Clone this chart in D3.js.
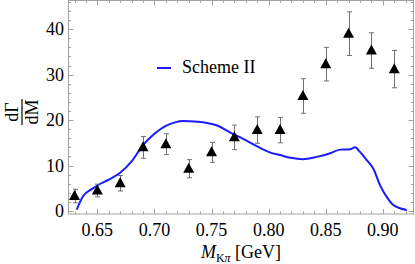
<!DOCTYPE html>
<html>
<head>
<meta charset="utf-8">
<script src="https://cdnjs.cloudflare.com/ajax/libs/d3/7.8.5/d3.min.js"></script>
<style>
  body { margin: 0; background: #fff; }
  svg { display: block; font-family: "Liberation Serif", "Times New Roman", serif; }
</style>
</head>
<body>
<div id="chart"></div>
<script>
// measured points (triangles) with symmetric errors
var mass_pts = [0.63, 0.65, 0.67, 0.69, 0.71, 0.73, 0.75, 0.77, 0.79, 0.81, 0.83, 0.85, 0.87, 0.89, 0.91];
var rate_pts = [3.3, 4.5, 6.1, 14.0, 14.7, 9.3, 12.9, 16.2, 17.8, 17.8, 25.3, 32.3, 39.0, 35.3, 31.2];
var rate_err = [1.5, 1.4, 1.7, 2.4, 2.3, 2.0, 2.2, 2.7, 2.9, 2.8, 3.8, 3.7, 4.8, 3.9, 4.1];

// Scheme II curve
var curve_m = [0.6319, 0.6376, 0.645, 0.65, 0.66, 0.67, 0.68, 0.69, 0.70, 0.71, 0.718, 0.7253, 0.735, 0.745, 0.755,
               0.766, 0.778, 0.79, 0.801, 0.81, 0.8193, 0.83, 0.842, 0.854, 0.8626, 0.8713, 0.8757, 0.88,
               0.8859, 0.8917, 0.8975, 0.9034, 0.9092, 0.915, 0.921];
var curve_v = [0.3, 3.3, 4.8, 5.6, 6.9, 8.4, 10.9, 14.5, 17.0, 18.7, 19.5, 19.8, 19.7, 19.4, 18.8,
               17.3, 15.8, 14.2, 12.9, 12.3, 11.7, 11.4, 11.9, 12.7, 13.5, 13.6, 14.0, 13.0,
               11.2, 9.3, 5.7, 3.1, 1.3, 0.6, 0.2];

var x_ticks = [0.65, 0.70, 0.75, 0.80, 0.85, 0.90];
var y_ticks = [0, 10, 20, 30, 40];

var width = 415, height = 264;
var frame_col = '#a0a0a0';

var svg = d3.select('#chart').append('svg')
    .attr('width', width)
    .attr('height', height);

var x = d3.scaleLinear().domain([0.6243, 0.9273]).range([68, 414]);
var y = d3.scaleLinear().domain([-0.66, 46.3]).range([214, 0.5]);

var x_minor = d3.range(0.63, 0.925, 0.01).map(function(d){ return +d.toFixed(2); });
var y_minor = d3.range(0, 47, 2);

// frame
svg.append('rect')
    .attr('x', 68.5).attr('y', 0.5)
    .attr('width', 345).attr('height', 213.5)
    .attr('fill', 'none')
    .attr('stroke', frame_col)
    .attr('stroke-width', 1);

// ticks on all four sides
function tickLen(v, majors) {
  return majors.some(function(m){ return Math.abs(m - v) < 1e-6; }) ? 5 : 2.5;
}
x_minor.forEach(function(v){
  var xx = Math.round(x(v)) + 0.5, L = tickLen(v, x_ticks);
  svg.append('line').attr('x1', xx).attr('x2', xx).attr('y1', 214).attr('y2', 214 - L)
     .attr('stroke', frame_col);
  svg.append('line').attr('x1', xx).attr('x2', xx).attr('y1', 0.5).attr('y2', 0.5 + L)
     .attr('stroke', frame_col);
});
y_minor.forEach(function(v){
  var yy = Math.round(y(v)) + 0.5, L = tickLen(v, y_ticks);
  svg.append('line').attr('x1', 68.5).attr('x2', 68.5 + L).attr('y1', yy).attr('y2', yy)
     .attr('stroke', frame_col);
  svg.append('line').attr('x1', 413.5).attr('x2', 413.5 - L).attr('y1', yy).attr('y2', yy)
     .attr('stroke', frame_col);
});

// tick labels
svg.selectAll('.xl').data(x_ticks).enter().append('text')
    .attr('x', function(d){ return x(d); })
    .attr('y', 236)
    .attr('text-anchor', 'middle')
    .style('font-size', '18px')
    .text(function(d){ return d.toFixed(2); });
svg.selectAll('.yl').data(y_ticks).enter().append('text')
    .attr('x', 64)
    .attr('y', function(d){ return y(d); })
    .attr('dy', '0.34em')
    .attr('text-anchor', 'end')
    .style('font-size', '18px')
    .text(function(d){ return d; });

// x title
var xt = svg.append('text')
    .attr('x', 241).attr('y', 258)
    .attr('text-anchor', 'middle')
    .style('font-size', '18px');
xt.append('tspan').style('font-style', 'italic').text('M');
xt.append('tspan').attr('dy', 4).style('font-size', '12px').text('K');
xt.append('tspan').style('font-size', '12px').style('font-style', 'italic').text('π');
xt.append('tspan').attr('dy', -4).text(' [GeV]');

// y title: rotated fraction dΓ/dM
var yt = svg.append('g').attr('transform', 'translate(22,112) rotate(-90)');
yt.append('text').attr('x', 0).attr('y', -4).attr('text-anchor', 'middle')
    .style('font-size', '18px').text('dΓ');
yt.append('line').attr('x1', -13).attr('x2', 13).attr('y1', 0).attr('y2', 0)
    .attr('stroke', '#000').attr('stroke-width', 1.2);
yt.append('text').attr('x', 0).attr('y', 16).attr('text-anchor', 'middle')
    .style('font-size', '18px').text('dM');

// curve
var curve_data = curve_m.map(function(m, i){ return [m, curve_v[i]]; });
svg.append('path')
    .datum(curve_data)
    .attr('fill', 'none')
    .attr('stroke', '#1a1aff')
    .attr('stroke-width', 2)
    .attr('stroke-linejoin', 'round')
    .attr('d', d3.line()
      .curve(d3.curveMonotoneX)
      .x(function(d){ return x(d[0]); })
      .y(function(d){ return y(d[1]); }));

// error bars
mass_pts.forEach(function(m, i){
  var cx = Math.round(x(m)) + 0.5;
  var top = y(rate_pts[i] + rate_err[i]), bot = y(rate_pts[i] - rate_err[i]);
  var g = svg.append('g').attr('stroke', '#707070').attr('stroke-width', 1);
  g.append('line').attr('x1', cx).attr('x2', cx).attr('y1', top).attr('y2', bot);
  g.append('line').attr('x1', cx - 2.5).attr('x2', cx + 2.5).attr('y1', top).attr('y2', top);
  g.append('line').attr('x1', cx - 2.5).attr('x2', cx + 2.5).attr('y1', bot).attr('y2', bot);
});

// triangles
svg.selectAll('.tri').data(mass_pts).enter().append('path')
    .attr('transform', function(d, i){ return 'translate(' + x(d) + ',' + y(rate_pts[i]) + ')'; })
    .attr('d', 'M0,-6L5.5,4L-5.5,4Z')
    .attr('fill', '#000');

// legend
svg.append('line').attr('x1', 157).attr('x2', 171).attr('y1', 68).attr('y2', 68)
    .attr('stroke', '#1a1aff').attr('stroke-width', 2);
svg.append('text').attr('x', 182).attr('y', 73)
    .style('font-size', '18px').text('Scheme II');
</script>
</body>
</html>
